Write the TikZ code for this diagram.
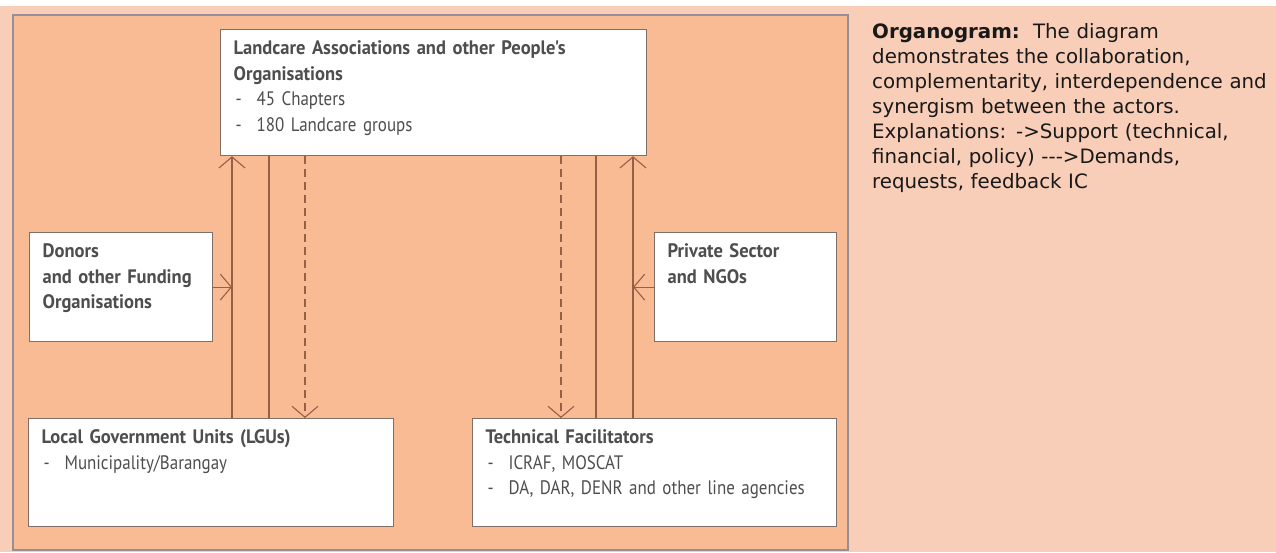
\documentclass[tikz,border=0pt]{standalone}
\usepackage{fontspec}
\setmainfont{DejaVu Sans}
\newfontfamily\boxfont{PT Sans}[FakeStretch=0.87, BoldFeatures={FakeStretch=0.95}]
\newfontfamily\notefont{DejaVu Sans}
\usetikzlibrary{arrows.meta, positioning}
\definecolor{pagepeach}{RGB}{248,206,184}
\definecolor{panelpeach}{RGB}{249,187,148}
\definecolor{panelgrey}{RGB}{150,142,150}
\definecolor{boxgrey}{RGB}{128,110,104}
\definecolor{linebrown}{RGB}{150,96,72}
\definecolor{textgrey}{RGB}{78,78,78}
\newcommand{\orgitem}[1]{\makebox[23pt][l]{\hspace{2pt}-}#1}
\tikzset{
  panel/.style={
    draw=panelgrey,
    line width=1.5pt,
    fill=panelpeach
  },
  box/.style={
    rectangle,
    draw=boxgrey,
    line width=1.2pt,
    fill=white,
    anchor=north west,
    align=left,
    inner xsep=13pt,
    inner ysep=0pt,
    text height=25pt,
    text=textgrey,
    font=\boxfont\fontsize{19.5}{25.5}\selectfont
  },
  note/.style={
    anchor=base west,
    align=left,
    inner sep=0pt,
    text width=400pt,
    text=black!90,
    font=\notefont\fontsize{19.8}{25}\selectfont
  },
  arrow/.style={
    -{Straight Barb[length=11pt, width=26pt]},
    draw=linebrown,
    line width=1.1pt
  },
  link/.style={
    draw=linebrown,
    line width=1.1pt
  },
  demand/.style={
    arrow,
    dash pattern=on 8pt off 5pt
  }
}

\begin{document}
\begin{tikzpicture}[x=1pt, y=-1pt]
    \useasboundingbox (0,0) rectangle (1276,552);
    \fill[pagepeach] (0,0) rectangle (1276,552);
    \fill[white] (0,0) rectangle (1276,6);
    \draw[panel] (13,15) rectangle (848,550);

    \node[box, text width=400pt, text depth=101pt] (lca) at (220,29)
        {\textbf{Landcare Associations and other People's}\\\textbf{Organisations}\\\orgitem{45 Chapters}\\\orgitem{180 Landcare groups}};
    \node[box, text width=157pt, text depth=84pt] (donors) at (29,232)
        {\textbf{Donors}\\\textbf{and other Funding}\\\textbf{Organisations}};
    \node[box, text width=156pt, text depth=84pt] (private) at (654,232)
        {\textbf{Private Sector}\\\textbf{and NGOs}};
    \node[box, text width=339pt, text depth=83pt] (lgu) at (28,418)
        {\textbf{Local Government Units (LGUs)}\\\orgitem{Municipality/Barangay}};
    \node[box, text width=338pt, text depth=83pt] (tech) at (472,418)
        {\textbf{Technical Facilitators}\\\orgitem{ICRAF, MOSCAT}\\\orgitem{DA, DAR, DENR and other line agencies}};

    \coordinate (lup) at (232,0);
    \coordinate (lsol) at (269,0);
    \coordinate (ldem) at (305,0);
    \coordinate (rdem) at (561,0);
    \coordinate (rsol) at (596,0);
    \coordinate (rup) at (633,0);

    \draw[arrow] (lgu.north -| lup) -- (lca.south -| lup);
    \draw[link] (lgu.north -| lsol) -- (lca.south -| lsol);
    \draw[demand] (lca.south -| ldem) -- (lgu.north -| ldem);
    \draw[demand] (lca.south -| rdem) -- (tech.north -| rdem);
    \draw[link] (tech.north -| rsol) -- (lca.south -| rsol);
    \draw[arrow] (tech.north -| rup) -- (lca.south -| rup);
    \draw[arrow] (donors) -- (donors -| lup);
    \draw[arrow] (private) -- (private -| rup);

    \node[note] (caption) at (872,38)
        {\textbf{Organogram:}\ \ The diagram\\demonstrates the collaboration,\\complementarity, interdependence and\\synergism between the actors.\\Explanations: ->Support (technical,\\financial, policy) -{}-{}->Demands,\\requests, feedback IC};
\end{tikzpicture}
\end{document}
